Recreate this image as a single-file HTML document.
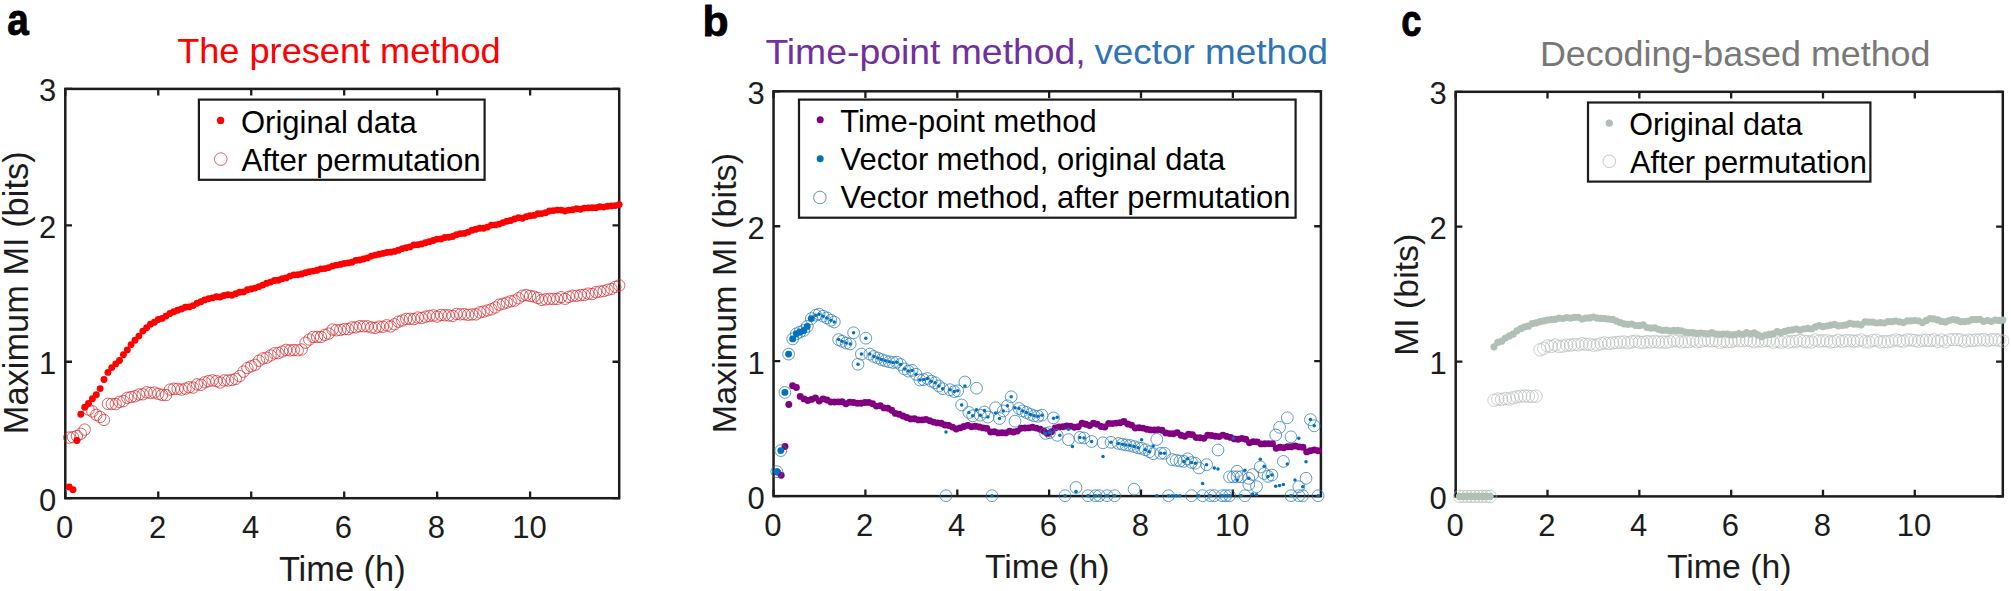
<!DOCTYPE html>
<html lang="en"><head><meta charset="utf-8"><title>MI estimation methods</title>
<style>
html,body{margin:0;padding:0;background:#fff;overflow:hidden;}
svg{display:block;font-family:"Liberation Sans", Arial, Helvetica, sans-serif;}
</style></head><body>
<svg width="2011" height="591" viewBox="0 0 2011 591">
<rect width="2011" height="591" fill="#fff"/>
<rect x="65.30" y="88.90" width="553.90" height="409.30" fill="none" stroke="#1c1c1c" stroke-width="2.5"/>
<path d="M65.30 498.20v-6.7M65.30 88.90v6.7M158.26 498.20v-6.7M158.26 88.90v6.7M251.22 498.20v-6.7M251.22 88.90v6.7M344.19 498.20v-6.7M344.19 88.90v6.7M437.15 498.20v-6.7M437.15 88.90v6.7M530.11 498.20v-6.7M530.11 88.90v6.7M65.30 498.20h6.7M619.20 498.20h-6.7M65.30 361.77h6.7M619.20 361.77h-6.7M65.30 225.33h6.7M619.20 225.33h-6.7M65.30 88.90h6.7M619.20 88.90h-6.7" stroke="#1c1c1c" stroke-width="2.3" fill="none"/>
<text x="64.60" y="538.40" font-size="31" text-anchor="middle" fill="#1c1c1c" font-weight="normal" >0</text>
<text x="157.56" y="538.40" font-size="31" text-anchor="middle" fill="#1c1c1c" font-weight="normal" >2</text>
<text x="250.52" y="538.40" font-size="31" text-anchor="middle" fill="#1c1c1c" font-weight="normal" >4</text>
<text x="343.49" y="538.40" font-size="31" text-anchor="middle" fill="#1c1c1c" font-weight="normal" >6</text>
<text x="436.45" y="538.40" font-size="31" text-anchor="middle" fill="#1c1c1c" font-weight="normal" >8</text>
<text x="529.41" y="538.40" font-size="31" text-anchor="middle" fill="#1c1c1c" font-weight="normal" >10</text>
<text x="56.30" y="510.60" font-size="31" text-anchor="end" fill="#1c1c1c" font-weight="normal" >0</text>
<text x="56.30" y="374.17" font-size="31" text-anchor="end" fill="#1c1c1c" font-weight="normal" >1</text>
<text x="56.30" y="237.73" font-size="31" text-anchor="end" fill="#1c1c1c" font-weight="normal" >2</text>
<text x="56.30" y="101.30" font-size="31" text-anchor="end" fill="#1c1c1c" font-weight="normal" >3</text>
<text x="342.25" y="580.80" font-size="34.4" text-anchor="middle" fill="#1c1c1c" font-weight="normal" >Time (h)</text>
<text transform="translate(27.60 292.80) rotate(-90)" font-size="34.4" text-anchor="middle" fill="#1c1c1c">Maximum MI (bits)</text>
<g fill="none" stroke="#d02226" stroke-width="0.7"><circle cx="69.2" cy="437.6" r="5.7"/><circle cx="73.0" cy="437.2" r="5.7"/><circle cx="76.9" cy="436.0" r="5.7"/><circle cx="80.8" cy="433.8" r="5.7"/><circle cx="84.7" cy="429.6" r="5.7"/><circle cx="88.5" cy="409.5" r="5.7"/><circle cx="92.4" cy="411.4" r="5.7"/><circle cx="96.3" cy="414.8" r="5.7"/><circle cx="100.2" cy="416.9" r="5.7"/><circle cx="104.0" cy="419.9" r="5.7"/><circle cx="107.9" cy="403.8" r="5.7"/><circle cx="111.8" cy="403.9" r="5.7"/><circle cx="115.7" cy="404.1" r="5.7"/><circle cx="119.5" cy="401.9" r="5.7"/><circle cx="123.4" cy="401.1" r="5.7"/><circle cx="127.3" cy="397.8" r="5.7"/><circle cx="131.1" cy="397.1" r="5.7"/><circle cx="135.0" cy="396.3" r="5.7"/><circle cx="138.9" cy="394.5" r="5.7"/><circle cx="142.8" cy="394.3" r="5.7"/><circle cx="146.6" cy="392.3" r="5.7"/><circle cx="150.5" cy="392.9" r="5.7"/><circle cx="154.4" cy="392.5" r="5.7"/><circle cx="158.3" cy="393.8" r="5.7"/><circle cx="162.1" cy="394.9" r="5.7"/><circle cx="166.0" cy="395.1" r="5.7"/><circle cx="169.9" cy="389.6" r="5.7"/><circle cx="173.8" cy="388.8" r="5.7"/><circle cx="177.6" cy="388.9" r="5.7"/><circle cx="181.5" cy="389.6" r="5.7"/><circle cx="185.4" cy="388.7" r="5.7"/><circle cx="189.2" cy="387.3" r="5.7"/><circle cx="193.1" cy="387.6" r="5.7"/><circle cx="197.0" cy="384.4" r="5.7"/><circle cx="200.9" cy="384.8" r="5.7"/><circle cx="204.7" cy="382.3" r="5.7"/><circle cx="208.6" cy="381.1" r="5.7"/><circle cx="212.5" cy="380.4" r="5.7"/><circle cx="216.4" cy="381.1" r="5.7"/><circle cx="220.2" cy="382.5" r="5.7"/><circle cx="224.1" cy="380.4" r="5.7"/><circle cx="228.0" cy="380.5" r="5.7"/><circle cx="231.9" cy="380.0" r="5.7"/><circle cx="235.7" cy="378.9" r="5.7"/><circle cx="239.6" cy="376.1" r="5.7"/><circle cx="243.5" cy="371.6" r="5.7"/><circle cx="247.4" cy="368.0" r="5.7"/><circle cx="251.2" cy="366.3" r="5.7"/><circle cx="255.1" cy="364.8" r="5.7"/><circle cx="259.0" cy="360.7" r="5.7"/><circle cx="262.8" cy="358.4" r="5.7"/><circle cx="266.7" cy="357.7" r="5.7"/><circle cx="270.6" cy="355.5" r="5.7"/><circle cx="274.5" cy="353.3" r="5.7"/><circle cx="278.3" cy="353.1" r="5.7"/><circle cx="282.2" cy="351.6" r="5.7"/><circle cx="286.1" cy="349.9" r="5.7"/><circle cx="290.0" cy="350.4" r="5.7"/><circle cx="293.8" cy="350.0" r="5.7"/><circle cx="297.7" cy="350.3" r="5.7"/><circle cx="301.6" cy="349.5" r="5.7"/><circle cx="305.5" cy="342.7" r="5.7"/><circle cx="309.3" cy="339.5" r="5.7"/><circle cx="313.2" cy="336.9" r="5.7"/><circle cx="317.1" cy="336.9" r="5.7"/><circle cx="320.9" cy="337.0" r="5.7"/><circle cx="324.8" cy="334.9" r="5.7"/><circle cx="328.7" cy="333.6" r="5.7"/><circle cx="332.6" cy="329.6" r="5.7"/><circle cx="336.4" cy="330.3" r="5.7"/><circle cx="340.3" cy="330.0" r="5.7"/><circle cx="344.2" cy="329.1" r="5.7"/><circle cx="348.1" cy="329.2" r="5.7"/><circle cx="351.9" cy="327.4" r="5.7"/><circle cx="355.8" cy="327.4" r="5.7"/><circle cx="359.7" cy="326.2" r="5.7"/><circle cx="363.6" cy="326.3" r="5.7"/><circle cx="367.4" cy="326.3" r="5.7"/><circle cx="371.3" cy="327.4" r="5.7"/><circle cx="375.2" cy="327.9" r="5.7"/><circle cx="379.0" cy="326.6" r="5.7"/><circle cx="382.9" cy="326.8" r="5.7"/><circle cx="386.8" cy="325.3" r="5.7"/><circle cx="390.7" cy="326.4" r="5.7"/><circle cx="394.5" cy="324.3" r="5.7"/><circle cx="398.4" cy="321.7" r="5.7"/><circle cx="402.3" cy="320.5" r="5.7"/><circle cx="406.2" cy="318.9" r="5.7"/><circle cx="410.0" cy="318.8" r="5.7"/><circle cx="413.9" cy="319.1" r="5.7"/><circle cx="417.8" cy="317.5" r="5.7"/><circle cx="421.7" cy="318.0" r="5.7"/><circle cx="425.5" cy="316.7" r="5.7"/><circle cx="429.4" cy="316.0" r="5.7"/><circle cx="433.3" cy="315.4" r="5.7"/><circle cx="437.1" cy="316.6" r="5.7"/><circle cx="441.0" cy="314.9" r="5.7"/><circle cx="444.9" cy="315.2" r="5.7"/><circle cx="448.8" cy="315.4" r="5.7"/><circle cx="452.6" cy="316.0" r="5.7"/><circle cx="456.5" cy="313.9" r="5.7"/><circle cx="460.4" cy="314.3" r="5.7"/><circle cx="464.3" cy="314.2" r="5.7"/><circle cx="468.1" cy="314.8" r="5.7"/><circle cx="472.0" cy="314.4" r="5.7"/><circle cx="475.9" cy="314.4" r="5.7"/><circle cx="479.8" cy="312.4" r="5.7"/><circle cx="483.6" cy="311.6" r="5.7"/><circle cx="487.5" cy="310.4" r="5.7"/><circle cx="491.4" cy="309.3" r="5.7"/><circle cx="495.3" cy="307.5" r="5.7"/><circle cx="499.1" cy="304.7" r="5.7"/><circle cx="503.0" cy="303.7" r="5.7"/><circle cx="506.9" cy="302.6" r="5.7"/><circle cx="510.7" cy="301.3" r="5.7"/><circle cx="514.6" cy="300.6" r="5.7"/><circle cx="518.5" cy="298.3" r="5.7"/><circle cx="522.4" cy="295.7" r="5.7"/><circle cx="526.2" cy="295.1" r="5.7"/><circle cx="530.1" cy="296.0" r="5.7"/><circle cx="534.0" cy="296.6" r="5.7"/><circle cx="537.9" cy="298.0" r="5.7"/><circle cx="541.7" cy="299.9" r="5.7"/><circle cx="545.6" cy="299.3" r="5.7"/><circle cx="549.5" cy="298.9" r="5.7"/><circle cx="553.4" cy="299.0" r="5.7"/><circle cx="557.2" cy="298.9" r="5.7"/><circle cx="561.1" cy="297.2" r="5.7"/><circle cx="565.0" cy="298.8" r="5.7"/><circle cx="568.8" cy="296.9" r="5.7"/><circle cx="572.7" cy="295.7" r="5.7"/><circle cx="576.6" cy="295.8" r="5.7"/><circle cx="580.5" cy="295.1" r="5.7"/><circle cx="584.3" cy="294.9" r="5.7"/><circle cx="588.2" cy="293.6" r="5.7"/><circle cx="592.1" cy="294.1" r="5.7"/><circle cx="596.0" cy="292.2" r="5.7"/><circle cx="599.8" cy="291.6" r="5.7"/><circle cx="603.7" cy="291.1" r="5.7"/><circle cx="607.6" cy="289.8" r="5.7"/><circle cx="611.5" cy="288.9" r="5.7"/><circle cx="615.3" cy="286.9" r="5.7"/><circle cx="619.2" cy="285.4" r="5.7"/></g>
<g fill="#ff0000"><circle cx="69.2" cy="487.0" r="3.45"/><circle cx="73.0" cy="489.7" r="3.45"/><circle cx="76.9" cy="440.5" r="3.45"/><circle cx="80.8" cy="414.3" r="3.45"/><circle cx="84.7" cy="407.2" r="3.45"/><circle cx="88.5" cy="403.5" r="3.45"/><circle cx="92.4" cy="398.7" r="3.45"/><circle cx="96.3" cy="394.7" r="3.45"/><circle cx="100.2" cy="388.6" r="3.45"/><circle cx="104.0" cy="379.5" r="3.45"/><circle cx="107.9" cy="372.4" r="3.45"/><circle cx="111.8" cy="367.6" r="3.45"/><circle cx="115.7" cy="363.9" r="3.45"/><circle cx="119.5" cy="360.5" r="3.45"/><circle cx="123.4" cy="354.8" r="3.45"/><circle cx="127.3" cy="350.0" r="3.45"/><circle cx="131.1" cy="344.6" r="3.45"/><circle cx="135.0" cy="340.2" r="3.45"/><circle cx="138.9" cy="336.1" r="3.45"/><circle cx="142.8" cy="331.1" r="3.45"/><circle cx="146.6" cy="327.7" r="3.45"/><circle cx="150.5" cy="324.3" r="3.45"/><circle cx="154.4" cy="322.3" r="3.45"/><circle cx="158.3" cy="319.5" r="3.45"/><circle cx="162.1" cy="318.4" r="3.45"/><circle cx="166.0" cy="316.1" r="3.45"/><circle cx="169.9" cy="313.5" r="3.45"/><circle cx="173.8" cy="311.7" r="3.45"/><circle cx="177.6" cy="310.3" r="3.45"/><circle cx="181.5" cy="309.0" r="3.45"/><circle cx="185.4" cy="307.3" r="3.45"/><circle cx="189.2" cy="306.9" r="3.45"/><circle cx="193.1" cy="305.6" r="3.45"/><circle cx="197.0" cy="303.3" r="3.45"/><circle cx="200.9" cy="301.8" r="3.45"/><circle cx="204.7" cy="299.9" r="3.45"/><circle cx="208.6" cy="298.8" r="3.45"/><circle cx="212.5" cy="297.9" r="3.45"/><circle cx="216.4" cy="296.8" r="3.45"/><circle cx="220.2" cy="297.0" r="3.45"/><circle cx="224.1" cy="295.5" r="3.45"/><circle cx="228.0" cy="294.7" r="3.45"/><circle cx="231.9" cy="295.2" r="3.45"/><circle cx="235.7" cy="293.7" r="3.45"/><circle cx="239.6" cy="292.3" r="3.45"/><circle cx="243.5" cy="291.9" r="3.45"/><circle cx="247.4" cy="289.7" r="3.45"/><circle cx="251.2" cy="289.0" r="3.45"/><circle cx="255.1" cy="288.1" r="3.45"/><circle cx="259.0" cy="286.6" r="3.45"/><circle cx="262.8" cy="285.1" r="3.45"/><circle cx="266.7" cy="283.2" r="3.45"/><circle cx="270.6" cy="282.1" r="3.45"/><circle cx="274.5" cy="280.5" r="3.45"/><circle cx="278.3" cy="280.2" r="3.45"/><circle cx="282.2" cy="278.7" r="3.45"/><circle cx="286.1" cy="277.9" r="3.45"/><circle cx="290.0" cy="276.1" r="3.45"/><circle cx="293.8" cy="274.9" r="3.45"/><circle cx="297.7" cy="274.7" r="3.45"/><circle cx="301.6" cy="274.0" r="3.45"/><circle cx="305.5" cy="272.8" r="3.45"/><circle cx="309.3" cy="271.8" r="3.45"/><circle cx="313.2" cy="271.1" r="3.45"/><circle cx="317.1" cy="270.3" r="3.45"/><circle cx="320.9" cy="268.9" r="3.45"/><circle cx="324.8" cy="268.6" r="3.45"/><circle cx="328.7" cy="267.6" r="3.45"/><circle cx="332.6" cy="266.1" r="3.45"/><circle cx="336.4" cy="265.1" r="3.45"/><circle cx="340.3" cy="264.4" r="3.45"/><circle cx="344.2" cy="263.4" r="3.45"/><circle cx="348.1" cy="262.9" r="3.45"/><circle cx="351.9" cy="262.2" r="3.45"/><circle cx="355.8" cy="260.4" r="3.45"/><circle cx="359.7" cy="260.0" r="3.45"/><circle cx="363.6" cy="259.0" r="3.45"/><circle cx="367.4" cy="257.9" r="3.45"/><circle cx="371.3" cy="256.1" r="3.45"/><circle cx="375.2" cy="255.1" r="3.45"/><circle cx="379.0" cy="254.3" r="3.45"/><circle cx="382.9" cy="253.4" r="3.45"/><circle cx="386.8" cy="252.5" r="3.45"/><circle cx="390.7" cy="252.2" r="3.45"/><circle cx="394.5" cy="251.4" r="3.45"/><circle cx="398.4" cy="250.3" r="3.45"/><circle cx="402.3" cy="248.6" r="3.45"/><circle cx="406.2" cy="247.8" r="3.45"/><circle cx="410.0" cy="246.9" r="3.45"/><circle cx="413.9" cy="244.9" r="3.45"/><circle cx="417.8" cy="244.7" r="3.45"/><circle cx="421.7" cy="244.0" r="3.45"/><circle cx="425.5" cy="242.8" r="3.45"/><circle cx="429.4" cy="241.8" r="3.45"/><circle cx="433.3" cy="240.5" r="3.45"/><circle cx="437.1" cy="239.1" r="3.45"/><circle cx="441.0" cy="239.0" r="3.45"/><circle cx="444.9" cy="237.5" r="3.45"/><circle cx="448.8" cy="237.2" r="3.45"/><circle cx="452.6" cy="236.5" r="3.45"/><circle cx="456.5" cy="234.7" r="3.45"/><circle cx="460.4" cy="233.6" r="3.45"/><circle cx="464.3" cy="233.4" r="3.45"/><circle cx="468.1" cy="232.1" r="3.45"/><circle cx="472.0" cy="230.3" r="3.45"/><circle cx="475.9" cy="229.3" r="3.45"/><circle cx="479.8" cy="228.3" r="3.45"/><circle cx="483.6" cy="228.3" r="3.45"/><circle cx="487.5" cy="227.1" r="3.45"/><circle cx="491.4" cy="225.1" r="3.45"/><circle cx="495.3" cy="224.9" r="3.45"/><circle cx="499.1" cy="224.1" r="3.45"/><circle cx="503.0" cy="222.6" r="3.45"/><circle cx="506.9" cy="221.2" r="3.45"/><circle cx="510.7" cy="220.5" r="3.45"/><circle cx="514.6" cy="218.9" r="3.45"/><circle cx="518.5" cy="217.8" r="3.45"/><circle cx="522.4" cy="218.2" r="3.45"/><circle cx="526.2" cy="216.8" r="3.45"/><circle cx="530.1" cy="215.7" r="3.45"/><circle cx="534.0" cy="215.4" r="3.45"/><circle cx="537.9" cy="213.8" r="3.45"/><circle cx="541.7" cy="213.6" r="3.45"/><circle cx="545.6" cy="212.7" r="3.45"/><circle cx="549.5" cy="211.0" r="3.45"/><circle cx="553.4" cy="210.6" r="3.45"/><circle cx="557.2" cy="210.1" r="3.45"/><circle cx="561.1" cy="210.1" r="3.45"/><circle cx="565.0" cy="211.0" r="3.45"/><circle cx="568.8" cy="210.1" r="3.45"/><circle cx="572.7" cy="209.7" r="3.45"/><circle cx="576.6" cy="208.8" r="3.45"/><circle cx="580.5" cy="209.3" r="3.45"/><circle cx="584.3" cy="208.1" r="3.45"/><circle cx="588.2" cy="207.9" r="3.45"/><circle cx="592.1" cy="207.7" r="3.45"/><circle cx="596.0" cy="207.8" r="3.45"/><circle cx="599.8" cy="206.7" r="3.45"/><circle cx="603.7" cy="207.1" r="3.45"/><circle cx="607.6" cy="206.2" r="3.45"/><circle cx="611.5" cy="205.9" r="3.45"/><circle cx="615.3" cy="205.6" r="3.45"/><circle cx="619.2" cy="204.6" r="3.45"/></g>
<rect x="198.9" y="99.6" width="285.7" height="80.2" fill="#fff" stroke="#1c1c1c" stroke-width="2.2"/>
<circle cx="220.6" cy="120.4" r="3.7" fill="#ff0000"/>
<circle cx="220.8" cy="159.1" r="6.3" fill="none" stroke="#c8383c" stroke-width="0.75"/>
<text x="241.00" y="132.50" font-size="31.0" text-anchor="start" fill="#000" font-weight="normal" >Original data</text>
<text x="241.40" y="171.40" font-size="31.2" text-anchor="start" fill="#000" font-weight="normal" >After permutation</text>
<text x="177.20" y="63.00" font-size="35" text-anchor="start" fill="#ff0000" font-weight="normal" textLength="323.5" lengthAdjust="spacingAndGlyphs">The present method</text>
<text transform="translate(7.3 34.8) scale(0.87 1)" font-size="44.5" font-weight="bold" fill="#000" stroke="#000" stroke-width="0.9" stroke-linejoin="round">a</text>
<rect x="773.55" y="91.30" width="547.35" height="404.80" fill="none" stroke="#1c1c1c" stroke-width="2.5"/>
<path d="M773.55 496.10v-6.7M773.55 91.30v6.7M865.41 496.10v-6.7M865.41 91.30v6.7M957.28 496.10v-6.7M957.28 91.30v6.7M1049.14 496.10v-6.7M1049.14 91.30v6.7M1141.00 496.10v-6.7M1141.00 91.30v6.7M1232.86 496.10v-6.7M1232.86 91.30v6.7M773.55 496.10h6.7M1320.90 496.10h-6.7M773.55 361.17h6.7M1320.90 361.17h-6.7M773.55 226.23h6.7M1320.90 226.23h-6.7M773.55 91.30h6.7M1320.90 91.30h-6.7" stroke="#1c1c1c" stroke-width="2.3" fill="none"/>
<text x="772.85" y="535.90" font-size="31" text-anchor="middle" fill="#1c1c1c" font-weight="normal" >0</text>
<text x="864.71" y="535.90" font-size="31" text-anchor="middle" fill="#1c1c1c" font-weight="normal" >2</text>
<text x="956.58" y="535.90" font-size="31" text-anchor="middle" fill="#1c1c1c" font-weight="normal" >4</text>
<text x="1048.44" y="535.90" font-size="31" text-anchor="middle" fill="#1c1c1c" font-weight="normal" >6</text>
<text x="1140.30" y="535.90" font-size="31" text-anchor="middle" fill="#1c1c1c" font-weight="normal" >8</text>
<text x="1232.16" y="535.90" font-size="31" text-anchor="middle" fill="#1c1c1c" font-weight="normal" >10</text>
<text x="764.80" y="508.60" font-size="31" text-anchor="end" fill="#1c1c1c" font-weight="normal" >0</text>
<text x="764.80" y="373.67" font-size="31" text-anchor="end" fill="#1c1c1c" font-weight="normal" >1</text>
<text x="764.80" y="238.73" font-size="31" text-anchor="end" fill="#1c1c1c" font-weight="normal" >2</text>
<text x="764.80" y="103.80" font-size="31" text-anchor="end" fill="#1c1c1c" font-weight="normal" >3</text>
<text x="1047.22" y="577.90" font-size="33.8" text-anchor="middle" fill="#1c1c1c" font-weight="normal" >Time (h)</text>
<text transform="translate(736.40 293.10) rotate(-90)" font-size="34.1" text-anchor="middle" fill="#1c1c1c">Maximum MI (bits)</text>
<g fill="#800080"><circle cx="777.4" cy="472.0" r="3.45"/><circle cx="781.2" cy="475.3" r="3.45"/><circle cx="785.0" cy="446.5" r="3.45"/><circle cx="788.8" cy="404.5" r="3.45"/><circle cx="792.6" cy="385.7" r="3.45"/><circle cx="796.4" cy="387.5" r="3.45"/><circle cx="800.2" cy="396.4" r="3.45"/><circle cx="804.0" cy="398.9" r="3.45"/><circle cx="807.8" cy="400.5" r="3.45"/><circle cx="811.6" cy="399.4" r="3.45"/><circle cx="815.4" cy="397.9" r="3.45"/><circle cx="819.2" cy="401.0" r="3.45"/><circle cx="823.1" cy="398.9" r="3.45"/><circle cx="826.9" cy="400.0" r="3.45"/><circle cx="830.7" cy="402.0" r="3.45"/><circle cx="834.5" cy="402.0" r="3.45"/><circle cx="838.3" cy="401.9" r="3.45"/><circle cx="842.1" cy="401.8" r="3.45"/><circle cx="845.9" cy="403.8" r="3.45"/><circle cx="849.7" cy="402.2" r="3.45"/><circle cx="853.5" cy="402.5" r="3.45"/><circle cx="857.3" cy="403.2" r="3.45"/><circle cx="861.1" cy="403.2" r="3.45"/><circle cx="864.9" cy="402.5" r="3.45"/><circle cx="868.8" cy="402.4" r="3.45"/><circle cx="872.6" cy="403.7" r="3.45"/><circle cx="876.4" cy="406.1" r="3.45"/><circle cx="880.2" cy="405.8" r="3.45"/><circle cx="884.0" cy="407.9" r="3.45"/><circle cx="887.8" cy="408.3" r="3.45"/><circle cx="891.6" cy="410.2" r="3.45"/><circle cx="895.4" cy="413.4" r="3.45"/><circle cx="899.2" cy="414.3" r="3.45"/><circle cx="903.0" cy="416.0" r="3.45"/><circle cx="906.8" cy="417.5" r="3.45"/><circle cx="910.6" cy="418.9" r="3.45"/><circle cx="914.4" cy="418.7" r="3.45"/><circle cx="918.3" cy="419.9" r="3.45"/><circle cx="922.1" cy="419.9" r="3.45"/><circle cx="925.9" cy="419.4" r="3.45"/><circle cx="929.7" cy="420.7" r="3.45"/><circle cx="933.5" cy="422.1" r="3.45"/><circle cx="937.3" cy="422.9" r="3.45"/><circle cx="941.1" cy="423.3" r="3.45"/><circle cx="944.9" cy="425.0" r="3.45"/><circle cx="948.7" cy="425.5" r="3.45"/><circle cx="952.5" cy="427.1" r="3.45"/><circle cx="956.3" cy="429.0" r="3.45"/><circle cx="960.1" cy="427.9" r="3.45"/><circle cx="963.9" cy="426.5" r="3.45"/><circle cx="967.8" cy="425.4" r="3.45"/><circle cx="971.6" cy="426.8" r="3.45"/><circle cx="975.4" cy="426.3" r="3.45"/><circle cx="979.2" cy="427.0" r="3.45"/><circle cx="983.0" cy="427.9" r="3.45"/><circle cx="986.8" cy="428.4" r="3.45"/><circle cx="990.6" cy="432.0" r="3.45"/><circle cx="994.4" cy="431.7" r="3.45"/><circle cx="998.2" cy="432.9" r="3.45"/><circle cx="1002.0" cy="432.8" r="3.45"/><circle cx="1005.8" cy="432.9" r="3.45"/><circle cx="1009.6" cy="431.2" r="3.45"/><circle cx="1013.5" cy="432.0" r="3.45"/><circle cx="1017.3" cy="431.1" r="3.45"/><circle cx="1021.1" cy="428.2" r="3.45"/><circle cx="1024.9" cy="428.0" r="3.45"/><circle cx="1028.7" cy="427.9" r="3.45"/><circle cx="1032.5" cy="427.2" r="3.45"/><circle cx="1036.3" cy="428.1" r="3.45"/><circle cx="1040.1" cy="429.2" r="3.45"/><circle cx="1043.9" cy="431.2" r="3.45"/><circle cx="1047.7" cy="433.4" r="3.45"/><circle cx="1051.5" cy="431.7" r="3.45"/><circle cx="1055.3" cy="427.9" r="3.45"/><circle cx="1059.1" cy="426.9" r="3.45"/><circle cx="1063.0" cy="426.7" r="3.45"/><circle cx="1066.8" cy="426.0" r="3.45"/><circle cx="1070.6" cy="426.1" r="3.45"/><circle cx="1074.4" cy="427.2" r="3.45"/><circle cx="1078.2" cy="426.7" r="3.45"/><circle cx="1082.0" cy="423.3" r="3.45"/><circle cx="1085.8" cy="424.2" r="3.45"/><circle cx="1089.6" cy="425.5" r="3.45"/><circle cx="1093.4" cy="423.2" r="3.45"/><circle cx="1097.2" cy="424.2" r="3.45"/><circle cx="1101.0" cy="426.5" r="3.45"/><circle cx="1104.8" cy="427.0" r="3.45"/><circle cx="1108.7" cy="423.5" r="3.45"/><circle cx="1112.5" cy="423.6" r="3.45"/><circle cx="1116.3" cy="423.1" r="3.45"/><circle cx="1120.1" cy="422.7" r="3.45"/><circle cx="1123.9" cy="421.5" r="3.45"/><circle cx="1127.7" cy="424.0" r="3.45"/><circle cx="1131.5" cy="425.1" r="3.45"/><circle cx="1135.3" cy="428.0" r="3.45"/><circle cx="1139.1" cy="427.7" r="3.45"/><circle cx="1142.9" cy="428.1" r="3.45"/><circle cx="1146.7" cy="429.2" r="3.45"/><circle cx="1150.5" cy="429.9" r="3.45"/><circle cx="1154.3" cy="430.0" r="3.45"/><circle cx="1158.2" cy="429.6" r="3.45"/><circle cx="1162.0" cy="430.2" r="3.45"/><circle cx="1165.8" cy="432.9" r="3.45"/><circle cx="1169.6" cy="433.6" r="3.45"/><circle cx="1173.4" cy="433.8" r="3.45"/><circle cx="1177.2" cy="432.6" r="3.45"/><circle cx="1181.0" cy="435.3" r="3.45"/><circle cx="1184.8" cy="436.3" r="3.45"/><circle cx="1188.6" cy="434.2" r="3.45"/><circle cx="1192.4" cy="434.7" r="3.45"/><circle cx="1196.2" cy="437.6" r="3.45"/><circle cx="1200.0" cy="437.8" r="3.45"/><circle cx="1203.9" cy="438.3" r="3.45"/><circle cx="1207.7" cy="435.2" r="3.45"/><circle cx="1211.5" cy="435.5" r="3.45"/><circle cx="1215.3" cy="436.3" r="3.45"/><circle cx="1219.1" cy="436.6" r="3.45"/><circle cx="1222.9" cy="435.1" r="3.45"/><circle cx="1226.7" cy="436.4" r="3.45"/><circle cx="1230.5" cy="437.4" r="3.45"/><circle cx="1234.3" cy="438.9" r="3.45"/><circle cx="1238.1" cy="439.2" r="3.45"/><circle cx="1241.9" cy="438.4" r="3.45"/><circle cx="1245.7" cy="439.2" r="3.45"/><circle cx="1249.5" cy="442.8" r="3.45"/><circle cx="1253.4" cy="441.6" r="3.45"/><circle cx="1257.2" cy="441.9" r="3.45"/><circle cx="1261.0" cy="443.9" r="3.45"/><circle cx="1264.8" cy="443.7" r="3.45"/><circle cx="1268.6" cy="443.6" r="3.45"/><circle cx="1272.4" cy="443.8" r="3.45"/><circle cx="1276.2" cy="448.3" r="3.45"/><circle cx="1280.0" cy="447.3" r="3.45"/><circle cx="1283.8" cy="447.8" r="3.45"/><circle cx="1287.6" cy="446.7" r="3.45"/><circle cx="1291.4" cy="446.8" r="3.45"/><circle cx="1295.2" cy="446.0" r="3.45"/><circle cx="1299.1" cy="446.9" r="3.45"/><circle cx="1302.9" cy="447.3" r="3.45"/><circle cx="1306.7" cy="451.9" r="3.45"/><circle cx="1310.5" cy="450.7" r="3.45"/><circle cx="1314.3" cy="449.9" r="3.45"/><circle cx="1318.1" cy="450.7" r="3.45"/></g>
<g fill="none" stroke="#2e7cb4" stroke-width="0.75"><circle cx="776.8" cy="471.6" r="5.9"/><circle cx="780.8" cy="450.6" r="5.9"/><circle cx="784.9" cy="392.4" r="5.9"/><circle cx="788.6" cy="354.1" r="5.9"/><circle cx="792.7" cy="338.9" r="5.9"/><circle cx="796.4" cy="333.8" r="5.9"/><circle cx="799.8" cy="332.1" r="5.9"/><circle cx="803.8" cy="330.5" r="5.9"/><circle cx="807.2" cy="326.4" r="5.9"/><circle cx="811.3" cy="318.6" r="5.9"/><circle cx="815.7" cy="315.2" r="5.9"/><circle cx="819.1" cy="314.2" r="5.9"/><circle cx="823.1" cy="316.2" r="5.9"/><circle cx="826.9" cy="317.9" r="5.9"/><circle cx="830.9" cy="320.3" r="5.9"/><circle cx="834.3" cy="322.0" r="5.9"/><circle cx="838.7" cy="339.6" r="5.9"/><circle cx="842.1" cy="341.3" r="5.9"/><circle cx="846.1" cy="343.0" r="5.9"/><circle cx="850.2" cy="344.0" r="5.9"/><circle cx="853.6" cy="332.8" r="5.9"/><circle cx="858.0" cy="364.3" r="5.9"/><circle cx="861.4" cy="354.1" r="5.9"/><circle cx="865.8" cy="338.2" r="5.9"/><circle cx="869.8" cy="354.1" r="5.9"/><circle cx="873.9" cy="356.5" r="5.9"/><circle cx="877.7" cy="358.0" r="5.9"/><circle cx="881.5" cy="359.6" r="5.9"/><circle cx="885.3" cy="360.8" r="5.9"/><circle cx="889.2" cy="361.8" r="5.9"/><circle cx="893.0" cy="362.5" r="5.9"/><circle cx="896.8" cy="362.2" r="5.9"/><circle cx="900.6" cy="364.5" r="5.9"/><circle cx="904.5" cy="369.0" r="5.9"/><circle cx="908.3" cy="371.1" r="5.9"/><circle cx="912.1" cy="370.4" r="5.9"/><circle cx="916.0" cy="374.3" r="5.9"/><circle cx="919.8" cy="380.0" r="5.9"/><circle cx="923.6" cy="379.6" r="5.9"/><circle cx="927.4" cy="378.5" r="5.9"/><circle cx="931.3" cy="381.2" r="5.9"/><circle cx="935.1" cy="382.7" r="5.9"/><circle cx="938.9" cy="386.0" r="5.9"/><circle cx="942.7" cy="388.7" r="5.9"/><circle cx="946.0" cy="495.7" r="5.9"/><circle cx="950.0" cy="389.7" r="5.9"/><circle cx="954.2" cy="391.6" r="5.9"/><circle cx="957.7" cy="390.8" r="5.9"/><circle cx="961.6" cy="405.0" r="5.9"/><circle cx="964.9" cy="382.0" r="5.9"/><circle cx="968.9" cy="412.5" r="5.9"/><circle cx="972.7" cy="415.8" r="5.9"/><circle cx="976.5" cy="388.2" r="5.9"/><circle cx="980.3" cy="415.2" r="5.9"/><circle cx="984.4" cy="412.0" r="5.9"/><circle cx="987.9" cy="417.1" r="5.9"/><circle cx="992.0" cy="495.7" r="5.9"/><circle cx="995.6" cy="407.7" r="5.9"/><circle cx="999.5" cy="418.5" r="5.9"/><circle cx="1003.3" cy="410.9" r="5.9"/><circle cx="1007.4" cy="405.8" r="5.9"/><circle cx="1011.2" cy="396.8" r="5.9"/><circle cx="1015.0" cy="421.2" r="5.9"/><circle cx="1019.0" cy="408.5" r="5.9"/><circle cx="1022.6" cy="410.9" r="5.9"/><circle cx="1026.4" cy="412.5" r="5.9"/><circle cx="1030.4" cy="414.4" r="5.9"/><circle cx="1034.1" cy="415.8" r="5.9"/><circle cx="1038.0" cy="416.3" r="5.9"/><circle cx="1042.0" cy="415.2" r="5.9"/><circle cx="1045.6" cy="433.4" r="5.9"/><circle cx="1049.6" cy="432.6" r="5.9"/><circle cx="1053.5" cy="417.9" r="5.9"/><circle cx="1057.2" cy="435.3" r="5.9"/><circle cx="1065.0" cy="495.7" r="5.9"/><circle cx="1068.5" cy="439.6" r="5.9"/><circle cx="1076.0" cy="487.5" r="5.9"/><circle cx="1079.9" cy="437.4" r="5.9"/><circle cx="1084.0" cy="438.0" r="5.9"/><circle cx="1088.0" cy="495.7" r="5.9"/><circle cx="1091.6" cy="441.5" r="5.9"/><circle cx="1095.4" cy="495.7" r="5.9"/><circle cx="1099.2" cy="495.7" r="5.9"/><circle cx="1103.0" cy="442.8" r="5.9"/><circle cx="1107.0" cy="495.7" r="5.9"/><circle cx="1111.0" cy="442.3" r="5.9"/><circle cx="1114.6" cy="495.7" r="5.9"/><circle cx="1118.4" cy="443.4" r="5.9"/><circle cx="1122.4" cy="444.2" r="5.9"/><circle cx="1126.0" cy="445.0" r="5.9"/><circle cx="1130.0" cy="445.5" r="5.9"/><circle cx="1134.1" cy="446.6" r="5.9"/><circle cx="1134.1" cy="489.2" r="5.9"/><circle cx="1138.1" cy="447.8" r="5.9"/><circle cx="1141.6" cy="448.3" r="5.9"/><circle cx="1145.4" cy="449.8" r="5.9"/><circle cx="1149.4" cy="451.7" r="5.9"/><circle cx="1153.1" cy="453.7" r="5.9"/><circle cx="1156.8" cy="439.4" r="5.9"/><circle cx="1160.8" cy="453.3" r="5.9"/><circle cx="1164.5" cy="453.3" r="5.9"/><circle cx="1168.5" cy="495.7" r="5.9"/><circle cx="1172.2" cy="459.6" r="5.9"/><circle cx="1176.2" cy="460.3" r="5.9"/><circle cx="1179.9" cy="461.0" r="5.9"/><circle cx="1183.9" cy="461.4" r="5.9"/><circle cx="1187.6" cy="458.8" r="5.9"/><circle cx="1191.6" cy="462.5" r="5.9"/><circle cx="1191.6" cy="495.7" r="5.9"/><circle cx="1195.3" cy="463.2" r="5.9"/><circle cx="1198.9" cy="468.0" r="5.9"/><circle cx="1202.6" cy="495.7" r="5.9"/><circle cx="1206.6" cy="464.7" r="5.9"/><circle cx="1210.3" cy="495.7" r="5.9"/><circle cx="1214.3" cy="495.7" r="5.9"/><circle cx="1218.0" cy="450.0" r="5.9"/><circle cx="1222.0" cy="495.7" r="5.9"/><circle cx="1225.7" cy="495.7" r="5.9"/><circle cx="1229.5" cy="495.7" r="5.9"/><circle cx="1229.5" cy="476.8" r="5.9"/><circle cx="1233.4" cy="476.8" r="5.9"/><circle cx="1237.1" cy="471.3" r="5.9"/><circle cx="1237.1" cy="476.8" r="5.9"/><circle cx="1241.1" cy="476.8" r="5.9"/><circle cx="1244.9" cy="495.7" r="5.9"/><circle cx="1248.8" cy="478.3" r="5.9"/><circle cx="1248.8" cy="484.5" r="5.9"/><circle cx="1252.6" cy="474.6" r="5.9"/><circle cx="1256.5" cy="486.7" r="5.9"/><circle cx="1260.3" cy="466.9" r="5.9"/><circle cx="1264.2" cy="473.5" r="5.9"/><circle cx="1268.0" cy="476.4" r="5.9"/><circle cx="1271.9" cy="475.0" r="5.9"/><circle cx="1275.7" cy="435.0" r="5.9"/><circle cx="1279.6" cy="427.3" r="5.9"/><circle cx="1283.4" cy="461.4" r="5.9"/><circle cx="1287.3" cy="417.8" r="5.9"/><circle cx="1291.0" cy="436.8" r="5.9"/><circle cx="1291.0" cy="495.7" r="5.9"/><circle cx="1298.8" cy="486.7" r="5.9"/><circle cx="1298.8" cy="495.7" r="5.9"/><circle cx="1302.7" cy="495.7" r="5.9"/><circle cx="1306.0" cy="478.3" r="5.9"/><circle cx="1310.4" cy="419.6" r="5.9"/><circle cx="1314.2" cy="425.8" r="5.9"/><circle cx="1318.1" cy="495.7" r="5.9"/></g>
<g fill="#0070c0"><circle cx="776.8" cy="471.6" r="3.45"/><circle cx="780.8" cy="450.6" r="3.45"/><circle cx="784.9" cy="392.4" r="3.45"/><circle cx="788.6" cy="354.1" r="3.45"/><circle cx="792.7" cy="338.9" r="3.45"/><circle cx="796.4" cy="333.8" r="3.45"/><circle cx="799.8" cy="332.1" r="3.45"/><circle cx="803.8" cy="330.5" r="3.45"/><circle cx="807.2" cy="326.4" r="3.45"/><circle cx="811.3" cy="318.6" r="3.45"/><circle cx="815.7" cy="315.2" r="1.75"/><circle cx="819.1" cy="314.2" r="1.75"/><circle cx="823.1" cy="316.2" r="1.75"/><circle cx="826.9" cy="317.9" r="1.75"/><circle cx="830.9" cy="320.3" r="1.75"/><circle cx="834.3" cy="322.0" r="1.75"/><circle cx="838.7" cy="339.6" r="1.75"/><circle cx="842.1" cy="341.3" r="1.75"/><circle cx="846.1" cy="343.0" r="1.75"/><circle cx="850.2" cy="344.0" r="1.75"/><circle cx="853.6" cy="332.8" r="1.75"/><circle cx="858.0" cy="364.3" r="1.75"/><circle cx="861.4" cy="354.1" r="1.75"/><circle cx="865.8" cy="338.2" r="1.75"/><circle cx="869.8" cy="354.1" r="1.75"/><circle cx="873.9" cy="356.5" r="1.75"/><circle cx="877.7" cy="358.0" r="1.75"/><circle cx="881.5" cy="359.6" r="1.75"/><circle cx="885.3" cy="360.8" r="1.75"/><circle cx="889.2" cy="361.8" r="1.75"/><circle cx="893.0" cy="362.5" r="1.75"/><circle cx="896.8" cy="362.2" r="1.75"/><circle cx="900.6" cy="364.5" r="1.75"/><circle cx="904.5" cy="369.0" r="1.75"/><circle cx="908.3" cy="371.1" r="1.75"/><circle cx="912.1" cy="370.4" r="1.75"/><circle cx="916.0" cy="374.3" r="1.75"/><circle cx="919.8" cy="380.0" r="1.75"/><circle cx="923.6" cy="379.6" r="1.75"/><circle cx="927.4" cy="378.5" r="1.75"/><circle cx="931.3" cy="381.2" r="1.75"/><circle cx="935.1" cy="382.7" r="1.75"/><circle cx="938.9" cy="386.0" r="1.75"/><circle cx="942.7" cy="388.7" r="1.75"/><circle cx="946.0" cy="432.0" r="1.75"/><circle cx="950.0" cy="389.7" r="1.75"/><circle cx="954.2" cy="391.6" r="1.75"/><circle cx="957.7" cy="390.8" r="1.75"/><circle cx="961.6" cy="405.0" r="1.75"/><circle cx="964.9" cy="386.0" r="1.75"/><circle cx="968.9" cy="412.5" r="1.75"/><circle cx="972.7" cy="415.8" r="1.75"/><circle cx="976.5" cy="409.8" r="1.75"/><circle cx="980.3" cy="415.2" r="1.75"/><circle cx="984.4" cy="410.4" r="1.75"/><circle cx="987.9" cy="417.1" r="1.75"/><circle cx="992.0" cy="495.7" r="1.75"/><circle cx="995.6" cy="413.0" r="1.75"/><circle cx="999.5" cy="418.5" r="1.75"/><circle cx="1003.3" cy="410.9" r="1.75"/><circle cx="1007.4" cy="405.8" r="1.75"/><circle cx="1011.2" cy="396.8" r="1.75"/><circle cx="1015.0" cy="407.7" r="1.75"/><circle cx="1019.0" cy="408.5" r="1.75"/><circle cx="1022.6" cy="410.9" r="1.75"/><circle cx="1026.4" cy="412.5" r="1.75"/><circle cx="1030.4" cy="414.4" r="1.75"/><circle cx="1034.1" cy="415.8" r="1.75"/><circle cx="1038.0" cy="416.3" r="1.75"/><circle cx="1042.0" cy="415.2" r="1.75"/><circle cx="1045.6" cy="433.4" r="1.75"/><circle cx="1049.6" cy="432.6" r="1.75"/><circle cx="1053.5" cy="418.2" r="1.75"/><circle cx="1057.2" cy="417.2" r="1.75"/><circle cx="1059.8" cy="435.3" r="1.75"/><circle cx="1065.0" cy="495.7" r="1.75"/><circle cx="1068.5" cy="429.3" r="1.75"/><circle cx="1072.4" cy="446.4" r="1.75"/><circle cx="1076.0" cy="491.6" r="1.75"/><circle cx="1079.9" cy="437.4" r="1.75"/><circle cx="1084.0" cy="438.0" r="1.75"/><circle cx="1088.0" cy="495.7" r="1.75"/><circle cx="1091.6" cy="441.5" r="1.75"/><circle cx="1095.4" cy="495.7" r="1.75"/><circle cx="1099.2" cy="495.7" r="1.75"/><circle cx="1103.0" cy="456.4" r="1.75"/><circle cx="1107.0" cy="495.7" r="1.75"/><circle cx="1111.0" cy="442.3" r="1.75"/><circle cx="1114.6" cy="495.7" r="1.75"/><circle cx="1118.4" cy="443.4" r="1.75"/><circle cx="1122.4" cy="444.2" r="1.75"/><circle cx="1126.0" cy="445.0" r="1.75"/><circle cx="1130.0" cy="445.5" r="1.75"/><circle cx="1134.1" cy="446.6" r="1.75"/><circle cx="1138.1" cy="447.8" r="1.75"/><circle cx="1141.6" cy="439.7" r="1.75"/><circle cx="1145.4" cy="449.8" r="1.75"/><circle cx="1149.4" cy="451.7" r="1.75"/><circle cx="1153.1" cy="446.0" r="1.75"/><circle cx="1156.8" cy="495.7" r="1.75"/><circle cx="1160.8" cy="453.3" r="1.75"/><circle cx="1164.5" cy="453.3" r="1.75"/><circle cx="1168.5" cy="495.7" r="1.75"/><circle cx="1172.2" cy="495.7" r="1.75"/><circle cx="1176.2" cy="495.7" r="1.75"/><circle cx="1179.9" cy="495.7" r="1.75"/><circle cx="1183.9" cy="461.4" r="1.75"/><circle cx="1187.6" cy="458.8" r="1.75"/><circle cx="1191.6" cy="462.5" r="1.75"/><circle cx="1195.3" cy="463.2" r="1.75"/><circle cx="1198.9" cy="495.7" r="1.75"/><circle cx="1202.6" cy="483.4" r="1.75"/><circle cx="1206.6" cy="464.7" r="1.75"/><circle cx="1210.3" cy="495.7" r="1.75"/><circle cx="1214.3" cy="468.0" r="1.75"/><circle cx="1218.0" cy="469.1" r="1.75"/><circle cx="1222.0" cy="495.7" r="1.75"/><circle cx="1225.7" cy="495.7" r="1.75"/><circle cx="1229.5" cy="495.7" r="1.75"/><circle cx="1233.4" cy="438.3" r="1.75"/><circle cx="1237.1" cy="480.1" r="1.75"/><circle cx="1241.1" cy="495.7" r="1.75"/><circle cx="1244.9" cy="470.2" r="1.75"/><circle cx="1248.8" cy="478.3" r="1.75"/><circle cx="1252.6" cy="494.0" r="1.75"/><circle cx="1256.5" cy="494.8" r="1.75"/><circle cx="1260.3" cy="459.2" r="1.75"/><circle cx="1264.2" cy="466.2" r="1.75"/><circle cx="1268.0" cy="476.4" r="1.75"/><circle cx="1271.9" cy="475.0" r="1.75"/><circle cx="1275.7" cy="486.3" r="1.75"/><circle cx="1279.6" cy="485.6" r="1.75"/><circle cx="1283.4" cy="484.5" r="1.75"/><circle cx="1287.3" cy="464.0" r="1.75"/><circle cx="1291.0" cy="495.7" r="1.75"/><circle cx="1295.0" cy="480.1" r="1.75"/><circle cx="1298.8" cy="438.3" r="1.75"/><circle cx="1302.7" cy="486.7" r="1.75"/><circle cx="1306.0" cy="461.8" r="1.75"/><circle cx="1310.4" cy="419.6" r="1.75"/><circle cx="1314.2" cy="425.8" r="1.75"/><circle cx="1318.1" cy="495.7" r="1.75"/></g>
<rect x="799" y="99.6" width="496.6" height="118.1" fill="#fff" stroke="#1c1c1c" stroke-width="2.2"/>
<circle cx="820.2" cy="119.8" r="3.5" fill="#800080"/>
<circle cx="820.2" cy="158.7" r="3.5" fill="#0070c0"/>
<circle cx="819.9" cy="197.5" r="6.3" fill="none" stroke="#2e7cb4" stroke-width="0.8"/>
<text x="840.20" y="131.50" font-size="30.9" text-anchor="start" fill="#000" font-weight="normal" >Time-point method</text>
<text x="840.60" y="169.60" font-size="30.9" text-anchor="start" fill="#000" font-weight="normal" >Vector method, original data</text>
<text x="840.60" y="207.80" font-size="30.9" text-anchor="start" fill="#000" font-weight="normal" >Vector method, after permutation</text>
<text x="765.40" y="64.10" font-size="35" text-anchor="start" fill="#7030a0" font-weight="normal" textLength="320.3" lengthAdjust="spacingAndGlyphs">Time-point method,</text>
<text x="1094.40" y="64.10" font-size="35" text-anchor="start" fill="#2e75b6" font-weight="normal" textLength="233.5" lengthAdjust="spacingAndGlyphs">vector method</text>
<text transform="translate(702.6 35.7) scale(0.96 0.97)" font-size="44.5" font-weight="bold" fill="#000" stroke="#000" stroke-width="0.9" stroke-linejoin="round">b</text>
<rect x="1455.70" y="91.80" width="547.10" height="404.60" fill="none" stroke="#1c1c1c" stroke-width="2.5"/>
<path d="M1455.70 496.40v-6.7M1455.70 91.80v6.7M1547.52 496.40v-6.7M1547.52 91.80v6.7M1639.34 496.40v-6.7M1639.34 91.80v6.7M1731.16 496.40v-6.7M1731.16 91.80v6.7M1822.98 496.40v-6.7M1822.98 91.80v6.7M1914.80 496.40v-6.7M1914.80 91.80v6.7M1455.70 496.40h6.7M2002.80 496.40h-6.7M1455.70 361.53h6.7M2002.80 361.53h-6.7M1455.70 226.67h6.7M2002.80 226.67h-6.7M1455.70 91.80h6.7M2002.80 91.80h-6.7" stroke="#1c1c1c" stroke-width="2.3" fill="none"/>
<text x="1455.00" y="535.90" font-size="31" text-anchor="middle" fill="#1c1c1c" font-weight="normal" >0</text>
<text x="1546.82" y="535.90" font-size="31" text-anchor="middle" fill="#1c1c1c" font-weight="normal" >2</text>
<text x="1638.64" y="535.90" font-size="31" text-anchor="middle" fill="#1c1c1c" font-weight="normal" >4</text>
<text x="1730.46" y="535.90" font-size="31" text-anchor="middle" fill="#1c1c1c" font-weight="normal" >6</text>
<text x="1822.28" y="535.90" font-size="31" text-anchor="middle" fill="#1c1c1c" font-weight="normal" >8</text>
<text x="1914.10" y="535.90" font-size="31" text-anchor="middle" fill="#1c1c1c" font-weight="normal" >10</text>
<text x="1446.70" y="508.60" font-size="31" text-anchor="end" fill="#1c1c1c" font-weight="normal" >0</text>
<text x="1446.70" y="373.73" font-size="31" text-anchor="end" fill="#1c1c1c" font-weight="normal" >1</text>
<text x="1446.70" y="238.87" font-size="31" text-anchor="end" fill="#1c1c1c" font-weight="normal" >2</text>
<text x="1446.70" y="104.00" font-size="31" text-anchor="end" fill="#1c1c1c" font-weight="normal" >3</text>
<text x="1729.25" y="577.90" font-size="33.8" text-anchor="middle" fill="#1c1c1c" font-weight="normal" >Time (h)</text>
<text transform="translate(1417.70 294.80) rotate(-90)" font-size="33.8" text-anchor="middle" fill="#1c1c1c">MI (bits)</text>
<g fill="none" stroke="#b6bcb8" stroke-width="0.7"><circle cx="1459.5" cy="496.4" r="6.2"/><circle cx="1463.4" cy="496.4" r="6.2"/><circle cx="1467.2" cy="496.4" r="6.2"/><circle cx="1471.0" cy="496.4" r="6.2"/><circle cx="1474.8" cy="496.4" r="6.2"/><circle cx="1478.7" cy="496.4" r="6.2"/><circle cx="1482.5" cy="496.4" r="6.2"/><circle cx="1486.3" cy="496.4" r="6.2"/><circle cx="1490.1" cy="496.4" r="6.2"/><circle cx="1494.0" cy="400.3" r="6.2"/><circle cx="1497.8" cy="399.0" r="6.2"/><circle cx="1501.6" cy="399.5" r="6.2"/><circle cx="1505.4" cy="398.5" r="6.2"/><circle cx="1509.3" cy="399.0" r="6.2"/><circle cx="1513.1" cy="397.8" r="6.2"/><circle cx="1516.9" cy="396.8" r="6.2"/><circle cx="1520.7" cy="396.2" r="6.2"/><circle cx="1524.6" cy="396.0" r="6.2"/><circle cx="1528.4" cy="396.2" r="6.2"/><circle cx="1532.2" cy="396.5" r="6.2"/><circle cx="1536.0" cy="396.2" r="6.2"/><circle cx="1539.9" cy="349.8" r="6.2"/><circle cx="1543.7" cy="348.4" r="6.2"/><circle cx="1547.5" cy="345.9" r="6.2"/><circle cx="1551.3" cy="346.6" r="6.2"/><circle cx="1555.2" cy="345.0" r="6.2"/><circle cx="1559.0" cy="346.5" r="6.2"/><circle cx="1562.8" cy="346.1" r="6.2"/><circle cx="1566.7" cy="345.1" r="6.2"/><circle cx="1570.5" cy="345.2" r="6.2"/><circle cx="1574.3" cy="344.4" r="6.2"/><circle cx="1578.1" cy="344.9" r="6.2"/><circle cx="1582.0" cy="343.7" r="6.2"/><circle cx="1585.8" cy="344.4" r="6.2"/><circle cx="1589.6" cy="344.2" r="6.2"/><circle cx="1593.4" cy="345.3" r="6.2"/><circle cx="1597.3" cy="344.7" r="6.2"/><circle cx="1601.1" cy="343.7" r="6.2"/><circle cx="1604.9" cy="343.0" r="6.2"/><circle cx="1608.7" cy="343.5" r="6.2"/><circle cx="1612.6" cy="342.9" r="6.2"/><circle cx="1616.4" cy="342.5" r="6.2"/><circle cx="1620.2" cy="342.2" r="6.2"/><circle cx="1624.0" cy="342.0" r="6.2"/><circle cx="1627.9" cy="342.8" r="6.2"/><circle cx="1631.7" cy="341.8" r="6.2"/><circle cx="1635.5" cy="341.3" r="6.2"/><circle cx="1639.3" cy="342.2" r="6.2"/><circle cx="1643.2" cy="342.3" r="6.2"/><circle cx="1647.0" cy="341.7" r="6.2"/><circle cx="1650.8" cy="342.0" r="6.2"/><circle cx="1654.6" cy="341.4" r="6.2"/><circle cx="1658.5" cy="342.0" r="6.2"/><circle cx="1662.3" cy="342.0" r="6.2"/><circle cx="1666.1" cy="342.2" r="6.2"/><circle cx="1669.9" cy="341.7" r="6.2"/><circle cx="1673.8" cy="340.3" r="6.2"/><circle cx="1677.6" cy="341.0" r="6.2"/><circle cx="1681.4" cy="342.0" r="6.2"/><circle cx="1685.3" cy="341.6" r="6.2"/><circle cx="1689.1" cy="341.7" r="6.2"/><circle cx="1692.9" cy="340.2" r="6.2"/><circle cx="1696.7" cy="341.8" r="6.2"/><circle cx="1700.6" cy="341.4" r="6.2"/><circle cx="1704.4" cy="340.3" r="6.2"/><circle cx="1708.2" cy="340.7" r="6.2"/><circle cx="1712.0" cy="340.8" r="6.2"/><circle cx="1715.9" cy="340.6" r="6.2"/><circle cx="1719.7" cy="342.3" r="6.2"/><circle cx="1723.5" cy="341.0" r="6.2"/><circle cx="1727.3" cy="341.7" r="6.2"/><circle cx="1731.2" cy="341.5" r="6.2"/><circle cx="1735.0" cy="340.3" r="6.2"/><circle cx="1738.8" cy="340.7" r="6.2"/><circle cx="1742.6" cy="340.8" r="6.2"/><circle cx="1746.5" cy="340.2" r="6.2"/><circle cx="1750.3" cy="340.7" r="6.2"/><circle cx="1754.1" cy="341.7" r="6.2"/><circle cx="1757.9" cy="340.8" r="6.2"/><circle cx="1761.8" cy="341.2" r="6.2"/><circle cx="1765.6" cy="340.4" r="6.2"/><circle cx="1769.4" cy="340.6" r="6.2"/><circle cx="1773.2" cy="342.2" r="6.2"/><circle cx="1777.1" cy="341.1" r="6.2"/><circle cx="1780.9" cy="342.2" r="6.2"/><circle cx="1784.7" cy="340.7" r="6.2"/><circle cx="1788.6" cy="342.2" r="6.2"/><circle cx="1792.4" cy="341.4" r="6.2"/><circle cx="1796.2" cy="341.3" r="6.2"/><circle cx="1800.0" cy="340.4" r="6.2"/><circle cx="1803.9" cy="341.2" r="6.2"/><circle cx="1807.7" cy="341.6" r="6.2"/><circle cx="1811.5" cy="342.0" r="6.2"/><circle cx="1815.3" cy="340.1" r="6.2"/><circle cx="1819.2" cy="341.1" r="6.2"/><circle cx="1823.0" cy="340.7" r="6.2"/><circle cx="1826.8" cy="340.8" r="6.2"/><circle cx="1830.6" cy="341.9" r="6.2"/><circle cx="1834.5" cy="341.6" r="6.2"/><circle cx="1838.3" cy="340.2" r="6.2"/><circle cx="1842.1" cy="341.5" r="6.2"/><circle cx="1845.9" cy="340.6" r="6.2"/><circle cx="1849.8" cy="340.8" r="6.2"/><circle cx="1853.6" cy="341.2" r="6.2"/><circle cx="1857.4" cy="340.9" r="6.2"/><circle cx="1861.2" cy="340.0" r="6.2"/><circle cx="1865.1" cy="341.7" r="6.2"/><circle cx="1868.9" cy="342.0" r="6.2"/><circle cx="1872.7" cy="340.5" r="6.2"/><circle cx="1876.5" cy="340.3" r="6.2"/><circle cx="1880.4" cy="342.0" r="6.2"/><circle cx="1884.2" cy="341.6" r="6.2"/><circle cx="1888.0" cy="341.8" r="6.2"/><circle cx="1891.8" cy="341.0" r="6.2"/><circle cx="1895.7" cy="339.9" r="6.2"/><circle cx="1899.5" cy="340.8" r="6.2"/><circle cx="1903.3" cy="341.2" r="6.2"/><circle cx="1907.2" cy="339.9" r="6.2"/><circle cx="1911.0" cy="340.0" r="6.2"/><circle cx="1914.8" cy="340.5" r="6.2"/><circle cx="1918.6" cy="341.3" r="6.2"/><circle cx="1922.5" cy="340.2" r="6.2"/><circle cx="1926.3" cy="340.3" r="6.2"/><circle cx="1930.1" cy="340.5" r="6.2"/><circle cx="1933.9" cy="339.9" r="6.2"/><circle cx="1937.8" cy="341.5" r="6.2"/><circle cx="1941.6" cy="340.0" r="6.2"/><circle cx="1945.4" cy="341.7" r="6.2"/><circle cx="1949.2" cy="339.8" r="6.2"/><circle cx="1953.1" cy="339.6" r="6.2"/><circle cx="1956.9" cy="339.6" r="6.2"/><circle cx="1960.7" cy="340.0" r="6.2"/><circle cx="1964.5" cy="341.3" r="6.2"/><circle cx="1968.4" cy="340.2" r="6.2"/><circle cx="1972.2" cy="340.5" r="6.2"/><circle cx="1976.0" cy="340.0" r="6.2"/><circle cx="1979.8" cy="339.9" r="6.2"/><circle cx="1983.7" cy="339.5" r="6.2"/><circle cx="1987.5" cy="340.6" r="6.2"/><circle cx="1991.3" cy="339.7" r="6.2"/><circle cx="1995.1" cy="339.7" r="6.2"/><circle cx="1999.0" cy="340.1" r="6.2"/><circle cx="2002.8" cy="341.0" r="6.2"/></g>
<g fill="#b2bfb6"><circle cx="1459.5" cy="496.4" r="3.6"/><circle cx="1463.4" cy="496.4" r="3.6"/><circle cx="1467.2" cy="496.4" r="3.6"/><circle cx="1471.0" cy="496.4" r="3.6"/><circle cx="1474.8" cy="496.4" r="3.6"/><circle cx="1478.7" cy="496.4" r="3.6"/><circle cx="1482.5" cy="496.4" r="3.6"/><circle cx="1486.3" cy="496.4" r="3.6"/><circle cx="1490.1" cy="496.4" r="3.6"/><circle cx="1494.0" cy="346.8" r="3.6"/><circle cx="1497.8" cy="342.3" r="3.6"/><circle cx="1501.6" cy="341.2" r="3.6"/><circle cx="1505.4" cy="338.0" r="3.6"/><circle cx="1509.3" cy="335.9" r="3.6"/><circle cx="1513.1" cy="334.2" r="3.6"/><circle cx="1516.9" cy="330.8" r="3.6"/><circle cx="1520.7" cy="328.7" r="3.6"/><circle cx="1524.6" cy="326.8" r="3.6"/><circle cx="1528.4" cy="326.2" r="3.6"/><circle cx="1532.2" cy="323.6" r="3.6"/><circle cx="1536.0" cy="322.9" r="3.6"/><circle cx="1539.9" cy="321.7" r="3.6"/><circle cx="1543.7" cy="320.9" r="3.6"/><circle cx="1547.5" cy="320.1" r="3.6"/><circle cx="1551.3" cy="319.6" r="3.6"/><circle cx="1555.2" cy="319.3" r="3.6"/><circle cx="1559.0" cy="318.1" r="3.6"/><circle cx="1562.8" cy="318.5" r="3.6"/><circle cx="1566.7" cy="317.6" r="3.6"/><circle cx="1570.5" cy="318.1" r="3.6"/><circle cx="1574.3" cy="317.3" r="3.6"/><circle cx="1578.1" cy="317.3" r="3.6"/><circle cx="1582.0" cy="319.1" r="3.6"/><circle cx="1585.8" cy="318.1" r="3.6"/><circle cx="1589.6" cy="317.9" r="3.6"/><circle cx="1593.4" cy="317.0" r="3.6"/><circle cx="1597.3" cy="318.2" r="3.6"/><circle cx="1601.1" cy="318.4" r="3.6"/><circle cx="1604.9" cy="318.7" r="3.6"/><circle cx="1608.7" cy="319.2" r="3.6"/><circle cx="1612.6" cy="319.4" r="3.6"/><circle cx="1616.4" cy="321.1" r="3.6"/><circle cx="1620.2" cy="322.7" r="3.6"/><circle cx="1624.0" cy="323.8" r="3.6"/><circle cx="1627.9" cy="324.3" r="3.6"/><circle cx="1631.7" cy="324.0" r="3.6"/><circle cx="1635.5" cy="325.5" r="3.6"/><circle cx="1639.3" cy="325.6" r="3.6"/><circle cx="1643.2" cy="324.9" r="3.6"/><circle cx="1647.0" cy="327.5" r="3.6"/><circle cx="1650.8" cy="328.1" r="3.6"/><circle cx="1654.6" cy="327.8" r="3.6"/><circle cx="1658.5" cy="329.3" r="3.6"/><circle cx="1662.3" cy="330.3" r="3.6"/><circle cx="1666.1" cy="330.2" r="3.6"/><circle cx="1669.9" cy="330.8" r="3.6"/><circle cx="1673.8" cy="330.3" r="3.6"/><circle cx="1677.6" cy="330.4" r="3.6"/><circle cx="1681.4" cy="330.8" r="3.6"/><circle cx="1685.3" cy="332.1" r="3.6"/><circle cx="1689.1" cy="332.6" r="3.6"/><circle cx="1692.9" cy="332.6" r="3.6"/><circle cx="1696.7" cy="333.4" r="3.6"/><circle cx="1700.6" cy="333.0" r="3.6"/><circle cx="1704.4" cy="333.5" r="3.6"/><circle cx="1708.2" cy="333.8" r="3.6"/><circle cx="1712.0" cy="332.7" r="3.6"/><circle cx="1715.9" cy="334.1" r="3.6"/><circle cx="1719.7" cy="334.3" r="3.6"/><circle cx="1723.5" cy="334.0" r="3.6"/><circle cx="1727.3" cy="334.1" r="3.6"/><circle cx="1731.2" cy="334.8" r="3.6"/><circle cx="1735.0" cy="334.6" r="3.6"/><circle cx="1738.8" cy="333.7" r="3.6"/><circle cx="1742.6" cy="334.5" r="3.6"/><circle cx="1746.5" cy="332.7" r="3.6"/><circle cx="1750.3" cy="333.9" r="3.6"/><circle cx="1754.1" cy="332.9" r="3.6"/><circle cx="1757.9" cy="334.9" r="3.6"/><circle cx="1761.8" cy="336.7" r="3.6"/><circle cx="1765.6" cy="335.1" r="3.6"/><circle cx="1769.4" cy="334.4" r="3.6"/><circle cx="1773.2" cy="333.9" r="3.6"/><circle cx="1777.1" cy="331.5" r="3.6"/><circle cx="1780.9" cy="332.6" r="3.6"/><circle cx="1784.7" cy="331.4" r="3.6"/><circle cx="1788.6" cy="330.3" r="3.6"/><circle cx="1792.4" cy="329.8" r="3.6"/><circle cx="1796.2" cy="329.0" r="3.6"/><circle cx="1800.0" cy="330.1" r="3.6"/><circle cx="1803.9" cy="329.0" r="3.6"/><circle cx="1807.7" cy="328.3" r="3.6"/><circle cx="1811.5" cy="329.0" r="3.6"/><circle cx="1815.3" cy="326.9" r="3.6"/><circle cx="1819.2" cy="325.7" r="3.6"/><circle cx="1823.0" cy="326.7" r="3.6"/><circle cx="1826.8" cy="326.0" r="3.6"/><circle cx="1830.6" cy="325.1" r="3.6"/><circle cx="1834.5" cy="324.3" r="3.6"/><circle cx="1838.3" cy="325.8" r="3.6"/><circle cx="1842.1" cy="325.5" r="3.6"/><circle cx="1845.9" cy="324.9" r="3.6"/><circle cx="1849.8" cy="323.4" r="3.6"/><circle cx="1853.6" cy="324.1" r="3.6"/><circle cx="1857.4" cy="324.2" r="3.6"/><circle cx="1861.2" cy="324.8" r="3.6"/><circle cx="1865.1" cy="321.9" r="3.6"/><circle cx="1868.9" cy="322.1" r="3.6"/><circle cx="1872.7" cy="322.2" r="3.6"/><circle cx="1876.5" cy="323.0" r="3.6"/><circle cx="1880.4" cy="322.6" r="3.6"/><circle cx="1884.2" cy="323.0" r="3.6"/><circle cx="1888.0" cy="321.7" r="3.6"/><circle cx="1891.8" cy="321.7" r="3.6"/><circle cx="1895.7" cy="321.0" r="3.6"/><circle cx="1899.5" cy="321.8" r="3.6"/><circle cx="1903.3" cy="322.6" r="3.6"/><circle cx="1907.2" cy="320.9" r="3.6"/><circle cx="1911.0" cy="320.8" r="3.6"/><circle cx="1914.8" cy="320.5" r="3.6"/><circle cx="1918.6" cy="321.0" r="3.6"/><circle cx="1922.5" cy="322.6" r="3.6"/><circle cx="1926.3" cy="320.4" r="3.6"/><circle cx="1930.1" cy="318.7" r="3.6"/><circle cx="1933.9" cy="318.9" r="3.6"/><circle cx="1937.8" cy="319.9" r="3.6"/><circle cx="1941.6" cy="321.4" r="3.6"/><circle cx="1945.4" cy="321.9" r="3.6"/><circle cx="1949.2" cy="320.5" r="3.6"/><circle cx="1953.1" cy="319.5" r="3.6"/><circle cx="1956.9" cy="320.2" r="3.6"/><circle cx="1960.7" cy="321.7" r="3.6"/><circle cx="1964.5" cy="321.6" r="3.6"/><circle cx="1968.4" cy="321.1" r="3.6"/><circle cx="1972.2" cy="319.7" r="3.6"/><circle cx="1976.0" cy="319.7" r="3.6"/><circle cx="1979.8" cy="319.3" r="3.6"/><circle cx="1983.7" cy="321.3" r="3.6"/><circle cx="1987.5" cy="320.5" r="3.6"/><circle cx="1991.3" cy="321.3" r="3.6"/><circle cx="1995.1" cy="320.1" r="3.6"/><circle cx="1999.0" cy="320.4" r="3.6"/><circle cx="2002.8" cy="320.1" r="3.6"/></g>
<rect x="1588" y="102.5" width="282.4" height="79.1" fill="#fff" stroke="#1c1c1c" stroke-width="2.2"/>
<circle cx="1609.3" cy="123.2" r="3.6" fill="#b2bfb6"/>
<circle cx="1609.3" cy="161.3" r="6.3" fill="none" stroke="#b9bcba" stroke-width="0.8"/>
<text x="1629.20" y="135.00" font-size="30.9" text-anchor="start" fill="#000" font-weight="normal" textLength="173.3" lengthAdjust="spacingAndGlyphs">Original data</text>
<text x="1629.90" y="173.40" font-size="30.9" text-anchor="start" fill="#000" font-weight="normal" >After permutation</text>
<text x="1539.90" y="65.60" font-size="35" text-anchor="start" fill="#787878" font-weight="normal" textLength="390.6" lengthAdjust="spacingAndGlyphs">Decoding-based method</text>
<text transform="translate(1401.2 36.2) scale(0.82 1)" font-size="44.5" font-weight="bold" fill="#000" stroke="#000" stroke-width="0.9" stroke-linejoin="round">c</text>
</svg>
</body></html>
